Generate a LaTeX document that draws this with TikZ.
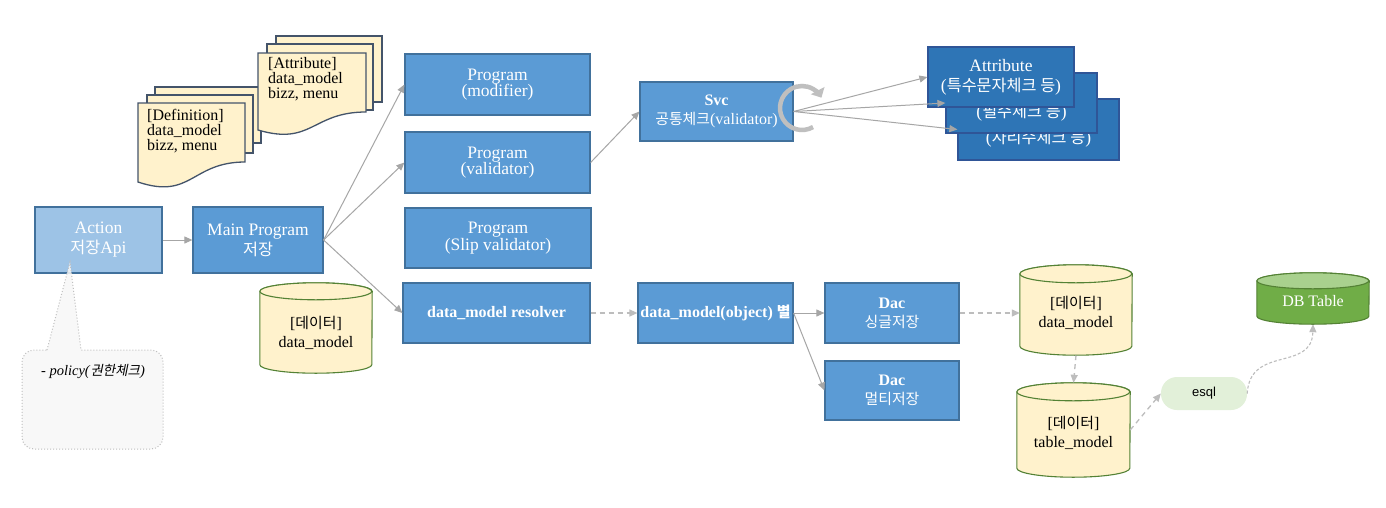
\documentclass[tikz,border=0pt]{standalone}
\usepackage{fontspec}
\setmainfont{Liberation Serif}
\setsansfont{Liberation Sans}
\newfontfamily\kofont{Noto Sans CJK KR}[Scale=0.93]
\newfontfamily\koitfont{Noto Sans CJK KR}[Scale=0.93,FakeSlant=0.2]
\newcommand\ko[1]{{\kofont #1}}
\newcommand\koi[1]{{\koitfont #1}}
\usetikzlibrary{arrows.meta}

\definecolor{actfill}{HTML}{9DC3E6}
\definecolor{progfill}{HTML}{5B9BD5}
\definecolor{progedge}{HTML}{41719C}
\definecolor{attrfill}{HTML}{2E75B6}
\definecolor{attredge}{HTML}{2F5597}
\definecolor{docfill}{HTML}{FFF2CC}
\definecolor{docedge}{HTML}{44546A}
\definecolor{cyledge}{HTML}{548235}
\definecolor{dbfill}{HTML}{70AD47}
\definecolor{dbtop}{HTML}{A9D18E}
\definecolor{esqlfill}{HTML}{E2F0D9}
\definecolor{linegray}{HTML}{A6A6A6}
\definecolor{dashgray}{HTML}{BDBDBD}
\definecolor{loopgray}{HTML}{BFBFBF}
\definecolor{callfill}{HTML}{F7F7F7}
\definecolor{calledge}{HTML}{BFBFBF}

\tikzset{
  box/.style={draw=progedge, line width=1.2pt, inner sep=0pt, align=center,
    text=white, font=\fontsize{17.5}{20}\selectfont},
  actbox/.style={box, fill=actfill},
  progbox/.style={box, fill=progfill},
  progtwo/.style={progbox, font=\fontsize{17.5}{16.5}\selectfont},
  boldbox/.style={progbox, font=\bfseries\fontsize{16}{19}\selectfont},
  attrbox/.style={box, fill=attrfill, draw=attredge},
  docpage/.style={draw=docedge, line width=1.3pt, fill=docfill},
  doctext/.style={inner sep=0pt, align=left, anchor=west,
    font=\fontsize{16}{15}\selectfont},
  cylbody/.style={draw=cyledge, line width=1.1pt},
  cylspan/.style={inner sep=0pt},
  cyltext/.style={inner sep=0pt, align=center, font=\fontsize{16}{19}\selectfont},
  arr/.style={draw=linegray, line width=1pt, -{Triangle[length=8pt,width=7pt]}},
  darr/.style={draw=dashgray, line width=1.3pt, dash pattern=on 5pt off 4pt,
    -{Triangle[length=8pt,width=7pt]}},
  curvearr/.style={draw=dashgray, line width=1.1pt, dash pattern=on 3pt off 2pt,
    -{Triangle[length=8pt,width=7pt]}},
}

% cylinder drawn over the span node #1: half width #2, end radius #3
\newcommand\drawcyl[5]{%
  \path[cylbody, fill=#4] ([yshift=-#3pt]#1.north west) -- ([yshift=#3pt]#1.south west)
    arc[start angle=180, end angle=360, x radius=#2pt, y radius=#3pt]
    -- ([yshift=-#3pt]#1.north east)
    arc[start angle=0, end angle=180, x radius=#2pt, y radius=#3pt] -- cycle;
  \path[cylbody, fill=#5] ([yshift=-#3pt]#1.north west)
    arc[start angle=180, end angle=540, x radius=#2pt, y radius=#3pt];
}

\begin{document}
\begin{tikzpicture}[x=1pt,y=-1pt]
\useasboundingbox[fill=white] (0,0) rectangle (1386,507);

% ---- definition document stack
\draw[docpage] (155,87) rectangle (261,143);
\draw[docpage] (147,95) rectangle (253,153);
\draw[docpage] (138,103) -- (245,103) -- (245,162)
  .. controls (191.5,162) and (191.5,200) .. (138,182) -- cycle;
\node[doctext] (deftxt) at (147,131) {[Definition]\\data\_model\\bizz, menu};

% ---- attribute document stack
\draw[docpage] (276,36) rectangle (382,102);
\draw[docpage] (267,44) rectangle (373,110);
\draw[docpage] (258,53) -- (366,53) -- (366,112)
  .. controls (312,112) and (312,146) .. (258,130) -- cycle;
\node[doctext] (attrtxt) at (268,79) {[Attribute]\\data\_model\\bizz, menu};

% ---- main flow boxes
\node[actbox, minimum width=127, minimum height=66] (action) at (98.5,240)
  {Action\\\ko{저장}Api};
\node[progbox, minimum width=130, minimum height=66] (main) at (258,240)
  {Main Program\\\ko{저장}};
\node[progtwo, minimum width=185, minimum height=61] (mod) at (497.5,84.5)
  {Program\\(modifier)};
\node[progtwo, minimum width=185, minimum height=61] (val) at (497.5,162.5)
  {Program\\(validator)};
\node[progtwo, minimum width=186, minimum height=60] (slip) at (498,238)
  {Program\\(Slip validator)};
\node[boldbox, minimum width=187, minimum height=60] (res) at (496.5,313)
  {data\_model resolver};
\node[boldbox, minimum width=155, minimum height=60] (obj) at (715.5,313)
  {data\_model(object) \ko{별}};
\node[boldbox, minimum width=153, minimum height=59] (svc) at (716.5,111.5)
  {Svc\\\mdseries\ko{공통체크}(validator)};
\node[boldbox, minimum width=134, minimum height=60] (dac1) at (892,313)
  {Dac\\\mdseries\ko{싱글저장}};
\node[boldbox, minimum width=134, minimum height=59] (dac2) at (892,390.5)
  {Dac\\\mdseries\ko{멀티저장}};

% ---- attribute check stack
\node[attrbox, minimum width=161, minimum height=61] (attr3) at (1038.5,129.5)
  {Attribute\\(\ko{자리수체크 등})};
\node[attrbox, minimum width=151, minimum height=60] (attr2) at (1021.5,103)
  {Attribute\\(\ko{필수체크 등})};
\node[attrbox, minimum width=146, minimum height=60] (attr1) at (1001,77)
  {Attribute\\(\ko{특수문자체크 등})};

% ---- policy callout
\path[draw=calledge, line width=1pt, dotted, fill=callfill, fill opacity=0.85]
  (47,350) -- (70,262) -- (81,350) -- (151,350)
  arc[start angle=90, end angle=0, radius=12pt] -- (163,437)
  arc[start angle=0, end angle=-90, radius=12pt] -- (34,449)
  arc[start angle=270, end angle=180, radius=12pt] -- (22,362)
  arc[start angle=180, end angle=90, radius=12pt] -- cycle;
\node[inner sep=0pt, font=\fontsize{14.5}{16}\selectfont] (policy) at (93,371)
  {- \textit{policy(}\koi{권한체크}\textit{)}};

% ---- data cylinders
\node[cylspan, minimum width=112, minimum height=90] (dm1) at (316,328) {};
\drawcyl{dm1}{56}{8.5}{docfill}{docfill}
\node[cyltext] (dm1t) at (316,333) {[\ko{데이터}]\\data\_model};

\node[cylspan, minimum width=112, minimum height=90] (dm2) at (1076,310) {};
\drawcyl{dm2}{56}{9}{docfill}{docfill}
\node[cyltext] (dm2t) at (1076,313) {[\ko{데이터}]\\data\_model};

\node[cylspan, minimum width=113, minimum height=94] (tm) at (1073.5,430) {};
\drawcyl{tm}{56.5}{9}{docfill}{docfill}
\node[cyltext] (tmt) at (1073.5,433) {[\ko{데이터}]\\table\_model};

\node[cylspan, minimum width=112, minimum height=51] (db) at (1313,298.5) {};
\drawcyl{db}{56}{8}{dbfill}{dbtop}
\node[cyltext, text=white] (dbt) at (1313,301) {DB Table};

\node[fill=esqlfill, rounded corners=16pt, minimum width=86, minimum height=33,
  inner sep=0pt, font=\sffamily\fontsize{13}{15}\selectfont] (esql) at (1204,393.5) {esql};

% ---- loop marker on the service box
\coordinate (loopc) at (802,108);
\draw[draw=loopgray, line width=4.5pt, -{Triangle[length=8pt,width=15pt]}]
  ([shift={(-60:22pt)}]loopc) arc[start angle=-60, end angle=-332, radius=22pt];

% ---- connectors
\draw[arr] (action) -- (main);
\draw[arr] (main.east) -- (mod.west);
\draw[arr] (main.east) -- (val.west);
\draw[arr] (main.east) -- (res.west);
\draw[arr] (val.east) -- (svc.west);
\draw[arr] (svc.east) -- (attr1.west);
\draw[arr] (svc.east) -- (attr2.west);
\draw[arr] (svc.east) -- (attr3.west);
\draw[darr] (res) -- (obj);
\draw[arr] (obj.east) -- (dac1.west);
\draw[arr] (obj.east) -- (dac2.west);
\draw[darr] (dac1.east) -- (dac1.east -| dm2.west);
\draw[darr] (dm2.south) -- (tm.north);
\draw[darr] (tm.east) -- (esql.west);
\draw[curvearr] (esql.east) .. controls (1250,345) and (1312,372) .. (db.south);
\end{tikzpicture}
\end{document}
